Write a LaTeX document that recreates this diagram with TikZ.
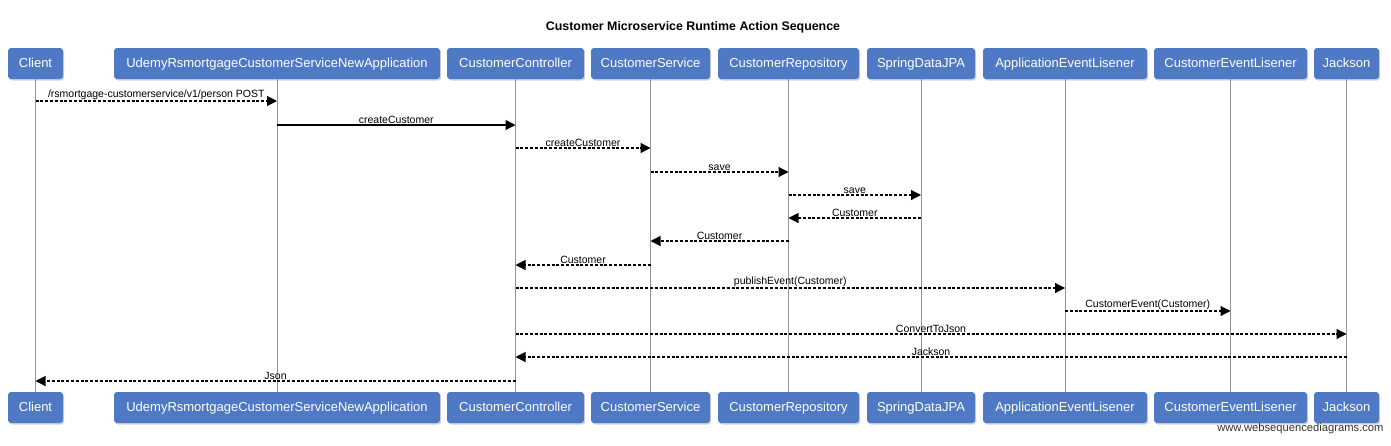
\documentclass[tikz,border=0pt]{standalone}
\usepackage{fontspec}
\setmainfont{Liberation Sans}
\usetikzlibrary{arrows.meta,shadows}
\definecolor{boxblue}{RGB}{79,121,196}
\newcommand{\lifepair}[4]{%
  \node[actor, minimum width=#3] (#1-t) at (#2,63.5) {#4};
  \node[actor, minimum width=#3] (#1-b) at (#2,407.5) {#4};
  \draw[lifeline] (#1-t) -- (#1-b);}
\newcommand{\seqmsg}[5]{%
  \draw[#5] (#1-t |- 0,#3) -- node[lbl] {#4} (#2-t |- 0,#3);}
\begin{document}
\begin{tikzpicture}[x=1pt,y=-1pt,
  actor/.style={fill=boxblue, rounded corners=3pt, text=white,
    font=\fontsize{13}{15}\selectfont, minimum height=31pt, inner sep=0pt,
    text height=10pt, text depth=1.2pt,
    drop shadow={shadow xshift=1.2pt,shadow yshift=-1.5pt,opacity=0.35}},
  lifeline/.style={draw=gray!85, line width=0.9pt},
  async/.style={draw=black, line width=1.1pt, dash pattern=on 3pt off 1.8pt,
    -{Triangle[length=10pt,width=10pt]}},
  sync/.style={draw=black, line width=1.1pt, -{Triangle[length=10pt,width=10pt]}},
  lbl/.style={font=\fontsize{10.5}{11}\selectfont, inner sep=1.2pt, above}]
\useasboundingbox (0,0) rectangle (1391,445);
\node[font=\bfseries\fontsize{12.4}{14}\selectfont] (title) at (693,27)
  {Customer Microservice Runtime Action Sequence};
\lifepair{cli}{35.5}{55}{Client}
\lifepair{app}{277}{326}{UdemyRsmortgageCustomerServiceNewApplication}
\lifepair{ctl}{515.5}{137}{CustomerController}
\lifepair{svc}{650.5}{119}{CustomerService}
\lifepair{rep}{788.5}{141}{CustomerRepository}
\lifepair{jpa}{921}{108}{SpringDataJPA}
\lifepair{ael}{1065}{164}{ApplicationEventLisener}
\lifepair{cel}{1230.5}{153}{CustomerEventLisener}
\lifepair{jck}{1346.5}{65}{Jackson}
\seqmsg{cli}{app}{101}{/rsmortgage-customerservice/v1/person POST}{async}
\seqmsg{app}{ctl}{125}{createCustomer}{sync}
\seqmsg{ctl}{svc}{148}{createCustomer}{async}
\seqmsg{svc}{rep}{172}{save}{async}
\seqmsg{rep}{jpa}{195}{save}{async}
\seqmsg{jpa}{rep}{218}{Customer}{async}
\seqmsg{rep}{svc}{241}{Customer}{async}
\seqmsg{svc}{ctl}{265}{Customer}{async}
\seqmsg{ctl}{ael}{288}{publishEvent(Customer)}{async}
\seqmsg{ael}{cel}{311}{CustomerEvent(Customer)}{async}
\seqmsg{ctl}{jck}{334}{ConvertToJson}{async}
\seqmsg{jck}{ctl}{357}{Jackson}{async}
\seqmsg{ctl}{cli}{381}{Json}{async}
\node[anchor=east, font=\fontsize{11.2}{13}\selectfont, text=black!80] (wm) at (1387,429)
  {www.websequencediagrams.com};
\end{tikzpicture}
\end{document}
